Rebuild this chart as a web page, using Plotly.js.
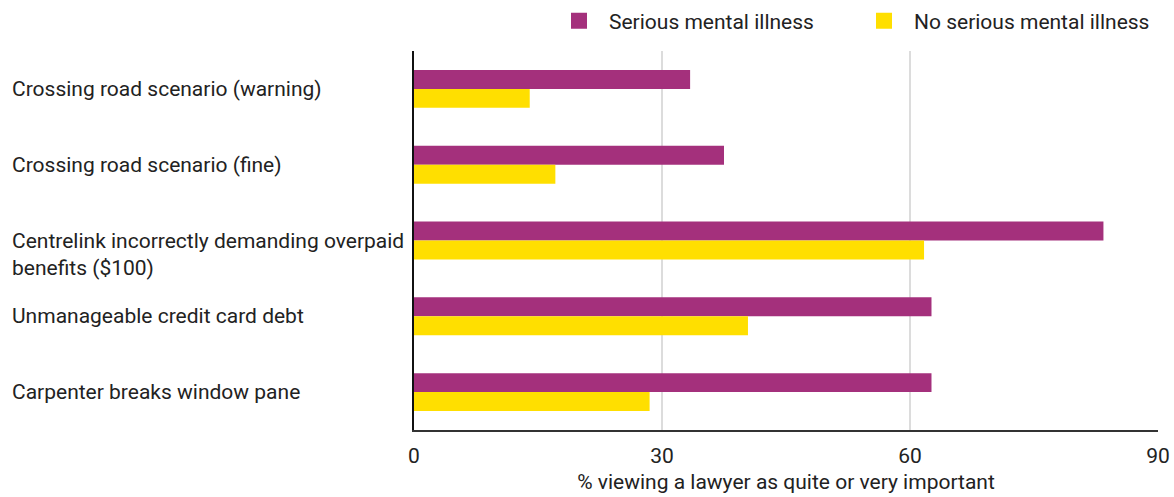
<!DOCTYPE html>
<html>
<head>
<meta charset="utf-8">
<script src="https://cdn.plot.ly/plotly-3.0.1.min.js"></script>
<style>
  html, body { margin: 0; padding: 0; background: #fff; }
  #chart { width: 1174px; height: 497px; }
</style>
</head>
<body>
<div id="chart"></div>
<script>
// Scenario categories, top to bottom
const categories = [
  "Crossing road scenario (warning)",
  "Crossing road scenario (fine)",
  "Centrelink incorrectly demanding overpaid<br>benefits ($100)",
  "Unmanageable credit card debt",
  "Carpenter breaks window pane"
];

// % viewing a lawyer as quite or very important
const seriousMI = [33.4, 37.5, 83.4, 62.6, 62.6];
const noSeriousMI = [14.0, 17.1, 61.7, 40.4, 28.5];

const seriesNames = ["Serious mental illness", "No serious mental illness"];
const tickValues = [0, 30, 60, 90];

const PURPLE = "#A4307C";
const YELLOW = "#FFDF00";
const TEXT = "#222222";
const FONT = "Roboto, 'Noto Sans', sans-serif";
const FS = 21;

const traces = [
  {
    type: "bar", orientation: "h",
    y: categories, x: seriousMI,
    marker: { color: PURPLE },
    name: seriesNames[0], showlegend: false, hoverinfo: "x"
  },
  {
    type: "bar", orientation: "h",
    y: categories, x: noSeriousMI,
    marker: { color: YELLOW },
    name: seriesNames[1], showlegend: false, hoverinfo: "x"
  },
  // legend swatches
  {
    type: "scatter", mode: "markers", x: [null], y: [null],
    marker: { symbol: "square", size: 20, color: PURPLE },
    name: seriesNames[0], showlegend: true
  },
  {
    type: "scatter", mode: "markers", x: [null], y: [null],
    marker: { symbol: "square", size: 20, color: YELLOW },
    name: seriesNames[1], showlegend: true
  }
];

// Left-aligned category labels
const annotations = categories.map((c) => ({
  xref: "paper", yref: "y",
  x: -0.5433, y: c,
  xanchor: "left", yanchor: "middle", align: "left",
  text: c, showarrow: false,
  yshift: c.includes("<br>") ? -14 : 0,
  font: { family: FONT, size: FS, color: TEXT }
}));

const layout = {
  width: 1174, height: 497,
  margin: { l: 413.5, r: 16, t: 51, b: 67, pad: 0, autoexpand: false },
  paper_bgcolor: "#ffffff",
  plot_bgcolor: "#ffffff",
  font: { family: FONT, size: FS, color: TEXT },
  barmode: "group",
  bargap: 0.5,
  bargroupgap: 0,
  showlegend: true,
  legend: {
    orientation: "h",
    xref: "container",
    x: 1159 / 1174, xanchor: "right",
    yref: "container",
    y: 1 - 21 / 497, yanchor: "middle",
    font: { family: FONT, size: FS, color: TEXT },
    itemwidth: 50,
    entrywidth: 240,
    entrywidthmode: "pixels",
    traceorder: "normal",
    bgcolor: "rgba(0,0,0,0)"
  },
  xaxis: {
    range: [0, 90],
    tickvals: tickValues,
    ticktext: tickValues.map(String),
    showgrid: true,
    gridcolor: "#dcdcdc",
    gridwidth: 1.5,
    zeroline: false,
    showline: true,
    linecolor: "#333333",
    linewidth: 2,
    ticks: "",
    ticklabelstandoff: 6,
    tickfont: { family: FONT, size: FS, color: TEXT },
    title: {
      text: "% viewing a lawyer as quite or very important",
      font: { family: FONT, size: FS, color: TEXT },
      standoff: 7
    },
    fixedrange: true
  },
  yaxis: {
    type: "category",
    autorange: "reversed",
    showticklabels: false,
    showgrid: false,
    zeroline: false,
    showline: true,
    linecolor: "#111111",
    linewidth: 2,
    ticks: "",
    fixedrange: true
  },
  annotations: annotations
};

Plotly.newPlot("chart", traces, layout, { displayModeBar: false, staticPlot: true });
</script>
</body>
</html>
